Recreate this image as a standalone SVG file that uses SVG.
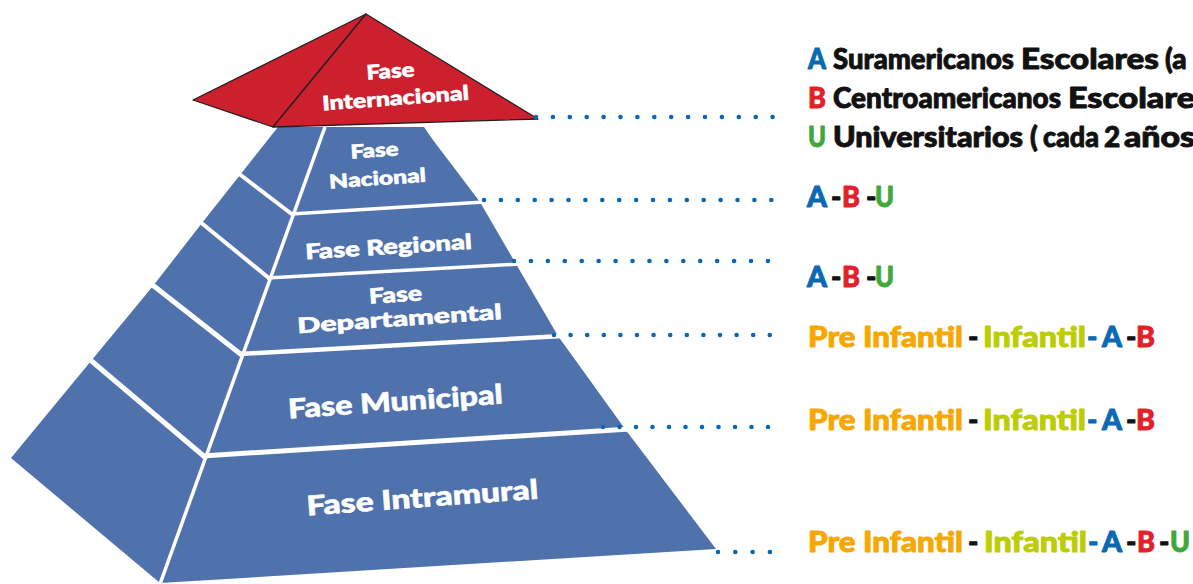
<svg xmlns="http://www.w3.org/2000/svg" width="1193" height="584" viewBox="0 0 1193 584">
<style>
.face{fill:#4f72ac}
.sep{stroke:#fff;stroke-linecap:butt;fill:none}
.red{fill:#cd202f;stroke:#231f20;stroke-width:1.3;stroke-linejoin:round}
.lbl{font-family:Lato,"Open Sans","Liberation Sans",sans-serif;font-weight:900;fill:#fff;stroke:#fff;stroke-width:0.6;text-anchor:middle}
.dots{stroke:#0a67b1;stroke-width:4.6;stroke-linecap:round;fill:none}
.lg{font-family:Lato,"Open Sans","Liberation Sans",sans-serif;font-weight:900;font-size:28px;stroke-width:0.9;stroke-linejoin:round}
.k{fill:#111;stroke:#111}.a{fill:#0a68b4;stroke:#0a68b4}.b{fill:#e31f29;stroke:#e31f29}.u{fill:#3ea83a;stroke:#3ea83a}.o{fill:#f7a800;stroke:#f7a800}.g{fill:#bccd00;stroke:#bccd00}
</style>

<g id="level-nacional">
  <polygon class="face" points="278,127 325,127 293,214 240,175"/>
  <polygon class="face" points="325,127 424,127 433,140 480,202 293,214"/>
  <text class="lbl" font-size="19" x="375" y="157" transform="rotate(-4 375 157)" textLength="48" lengthAdjust="spacingAndGlyphs">Fase</text>
  <text class="lbl" font-size="19" x="378" y="185" transform="rotate(-4 378 185)" textLength="97" lengthAdjust="spacingAndGlyphs">Nacional</text>
</g>
<g id="level-regional">
  <polygon class="face" points="240,175 293,214 270,278 202,223"/>
  <polygon class="face" points="293,214 480,202 516,264 270,278"/>
  <text class="lbl" font-size="21" x="389" y="254" transform="rotate(-3.6 389 254)" textLength="167" lengthAdjust="spacingAndGlyphs">Fase Regional</text>
</g>
<g id="level-departamental">
  <polygon class="face" points="202,223 270,278 243,354 153,286"/>
  <polygon class="face" points="270,278 516,264 558,336 243,354"/>
  <text class="lbl" font-size="21" x="396" y="302" transform="rotate(-4 396 302)" textLength="53" lengthAdjust="spacingAndGlyphs">Fase</text>
  <text class="lbl" font-size="21" x="400" y="326" transform="rotate(-4 400 326)" textLength="205" lengthAdjust="spacingAndGlyphs">Departamental</text>
</g>
<g id="level-municipal">
  <polygon class="face" points="153,286 243,354 206,456 91,361"/>
  <polygon class="face" points="243,354 558,336 625,429 206,456"/>
  <text class="lbl" font-size="27" x="396" y="411" transform="rotate(-4 396 411)" textLength="215" lengthAdjust="spacingAndGlyphs">Fase Municipal</text>
</g>
<g id="level-intramural">
  <polygon class="face" points="91,361 206,456 160,583 11,458"/>
  <polygon class="face" points="206,456 625,429 716,549 160,583"/>
  <text class="lbl" font-size="27" x="423" y="507" transform="rotate(-4.2 423 507)" textLength="232" lengthAdjust="spacingAndGlyphs">Fase Intramural</text>
</g>

<g id="separators">
  <line class="sep" stroke-width="3.5" x1="325" y1="127" x2="160" y2="584"/>
  <line class="sep" stroke-width="3.5" x1="291" y1="214" x2="484" y2="202"/>
  <line class="sep" stroke-width="3.5" x1="267" y1="278" x2="520" y2="264"/>
  <line class="sep" stroke-width="4.5" x1="240" y1="354" x2="562" y2="336"/>
  <line class="sep" stroke-width="5" x1="202" y1="456" x2="630" y2="429"/>
  <line class="sep" stroke-width="4" x1="238" y1="173" x2="293" y2="215"/>
  <line class="sep" stroke-width="4" x1="199" y1="221" x2="270" y2="279"/>
  <line class="sep" stroke-width="5" x1="150" y1="283" x2="243" y2="356"/>
  <line class="sep" stroke-width="5" x1="88" y1="358" x2="206" y2="458"/>
</g>

<g id="level-internacional">
  <polygon class="red" points="366,14 193,100 273,127"/>
  <polygon class="red" points="366,14 273,127 538,119"/>
  <text class="lbl" font-size="20" x="391" y="78" transform="rotate(-4 391 78)" textLength="48" lengthAdjust="spacingAndGlyphs">Fase</text>
  <text class="lbl" font-size="20" x="396" y="105" transform="rotate(-4.2 396 105)" textLength="147" lengthAdjust="spacingAndGlyphs">Internacional</text>
</g>

<g id="connectors">
  <line class="dots" stroke-dasharray="0 16.9" x1="536" y1="117" x2="773" y2="117"/>
  <line class="dots" stroke-dasharray="0 16.9" x1="484" y1="200" x2="772" y2="200"/>
  <line class="dots" stroke-dasharray="0 16.93" x1="514" y1="261" x2="769" y2="261"/>
  <line class="dots" stroke-dasharray="0 16.6" x1="554" y1="335" x2="771" y2="335"/>
  <line class="dots" stroke-dasharray="0 16.5" x1="603" y1="427" x2="769" y2="427"/>
  <line class="dots" stroke-dasharray="0 17.3" x1="718" y1="552" x2="771" y2="552"/>
</g>

<g id="legend-internacional" class="lg">
  <text y="69"><tspan class="a" x="808" textLength="18" lengthAdjust="spacingAndGlyphs">A</tspan><tspan class="k" x="833" textLength="181" lengthAdjust="spacingAndGlyphs">Suramericanos</tspan><tspan class="k" x="1021" textLength="138" lengthAdjust="spacingAndGlyphs">Escolares</tspan><tspan class="k" x="1165">(a</tspan></text>
  <text y="108"><tspan class="b" x="808" textLength="18" lengthAdjust="spacingAndGlyphs">B</tspan><tspan class="k" x="833" textLength="228" lengthAdjust="spacingAndGlyphs">Centroamericanos</tspan><tspan class="k" x="1068" textLength="127" lengthAdjust="spacingAndGlyphs">Escolare</tspan></text>
  <text y="147"><tspan class="u" x="808" textLength="18" lengthAdjust="spacingAndGlyphs">U</tspan><tspan class="k" x="833" textLength="190" lengthAdjust="spacingAndGlyphs">Universitarios</tspan><tspan class="k" x="1030">(</tspan><tspan class="k" x="1043" textLength="56" lengthAdjust="spacingAndGlyphs">cada</tspan><tspan class="k" x="1104">2</tspan><tspan class="k" x="1124" textLength="71" lengthAdjust="spacingAndGlyphs">años</tspan></text>
</g>

<g id="legend-nacional" class="lg">
  <text y="207"><tspan class="a" x="807" textLength="20" lengthAdjust="spacingAndGlyphs">A</tspan><tspan class="k" x="831">-</tspan><tspan class="b" x="842" textLength="18" lengthAdjust="spacingAndGlyphs">B</tspan><tspan class="k" x="866">-</tspan><tspan class="u" x="875" textLength="19" lengthAdjust="spacingAndGlyphs">U</tspan></text>
</g>
<g id="legend-regional" class="lg">
  <text y="287"><tspan class="a" x="807" textLength="20" lengthAdjust="spacingAndGlyphs">A</tspan><tspan class="k" x="831">-</tspan><tspan class="b" x="842" textLength="18" lengthAdjust="spacingAndGlyphs">B</tspan><tspan class="k" x="866">-</tspan><tspan class="u" x="875" textLength="19" lengthAdjust="spacingAndGlyphs">U</tspan></text>
</g>
<g id="legend-departamental" class="lg">
  <text y="347"><tspan class="o" x="808" textLength="155" lengthAdjust="spacingAndGlyphs">Pre Infantil</tspan><tspan class="k" x="968">-</tspan><tspan class="g" x="983" textLength="103" lengthAdjust="spacingAndGlyphs">Infantil</tspan><tspan class="a" x="1087">-</tspan><tspan class="a" x="1102" textLength="20" lengthAdjust="spacingAndGlyphs">A</tspan><tspan class="k" x="1126">-</tspan><tspan class="b" x="1136" textLength="19" lengthAdjust="spacingAndGlyphs">B</tspan></text>
</g>
<g id="legend-municipal" class="lg">
  <text y="430"><tspan class="o" x="808" textLength="155" lengthAdjust="spacingAndGlyphs">Pre Infantil</tspan><tspan class="k" x="968">-</tspan><tspan class="g" x="983" textLength="103" lengthAdjust="spacingAndGlyphs">Infantil</tspan><tspan class="a" x="1087">-</tspan><tspan class="a" x="1102" textLength="20" lengthAdjust="spacingAndGlyphs">A</tspan><tspan class="k" x="1126">-</tspan><tspan class="b" x="1136" textLength="19" lengthAdjust="spacingAndGlyphs">B</tspan></text>
</g>
<g id="legend-intramural" class="lg">
  <text y="552"><tspan class="o" x="808" textLength="155" lengthAdjust="spacingAndGlyphs">Pre Infantil</tspan><tspan class="k" x="968">-</tspan><tspan class="g" x="984" textLength="103" lengthAdjust="spacingAndGlyphs">Infantil</tspan><tspan class="a" x="1088">-</tspan><tspan class="a" x="1102" textLength="20" lengthAdjust="spacingAndGlyphs">A</tspan><tspan class="k" x="1126">-</tspan><tspan class="b" x="1137" textLength="18" lengthAdjust="spacingAndGlyphs">B</tspan><tspan class="k" x="1159">-</tspan><tspan class="u" x="1170" textLength="20" lengthAdjust="spacingAndGlyphs">U</tspan></text>
</g>
</svg>
